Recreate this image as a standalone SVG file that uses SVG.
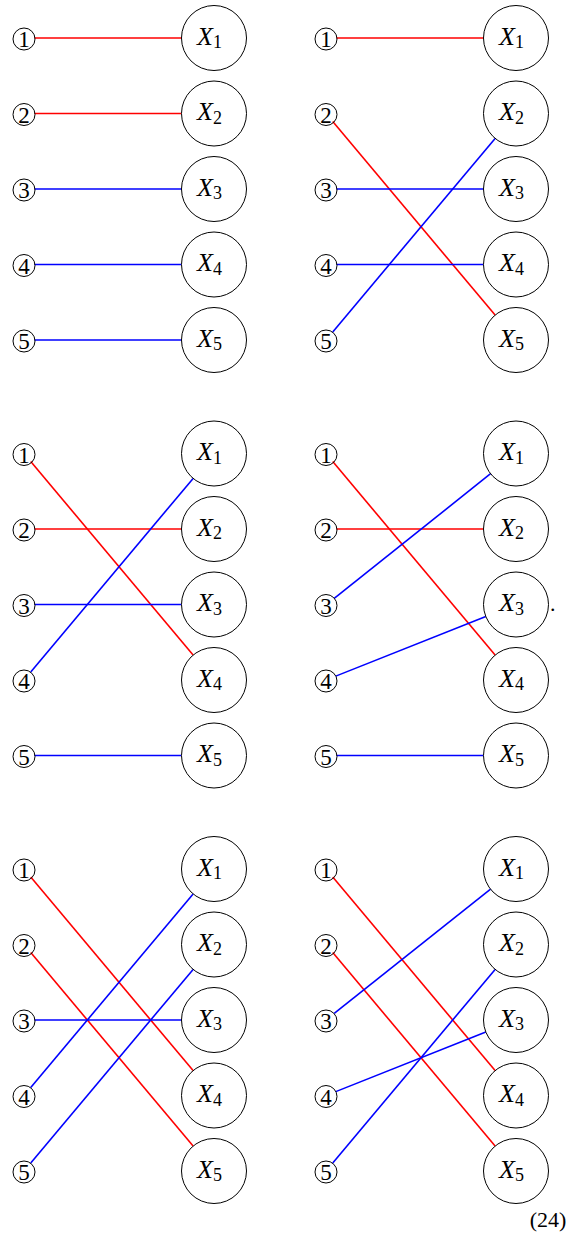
<svg xmlns="http://www.w3.org/2000/svg" width="584" height="1235" viewBox="0 0 584 1235" font-family="'Liberation Serif', 'Times New Roman', 'DejaVu Serif', serif">
<style>
text{font-family:"Liberation Serif","Times New Roman","DejaVu Serif",serif}
.big{fill:#fff;stroke:#000;stroke-width:1}
.sm{fill:none;stroke:#000;stroke-width:1}
.xl{font-style:italic;font-size:26px}
.sub{font-style:normal;font-size:18px}
.dg{font-size:23px;text-anchor:middle}
.r{stroke:#ff0000;stroke-width:1.6;fill:none}
.b{stroke:#0000ff;stroke-width:1.6;fill:none}
.t{font-size:22px}
</style>
<defs>
<g id="bc"><circle r="32.5" class="big"/></g>
<g id="sc"><circle cy="1" r="11" class="sm"/></g>
</defs>
<g id="connectors">
<line class="r" x1="34.5" y1="38" x2="181.5" y2="38"/>
<line class="r" x1="34.5" y1="113.5" x2="181.5" y2="113.5"/>
<line class="b" x1="34.5" y1="189" x2="181.5" y2="189"/>
<line class="b" x1="34.5" y1="264.5" x2="181.5" y2="264.5"/>
<line class="b" x1="34.5" y1="340" x2="181.5" y2="340"/>
<line class="r" x1="336.5" y1="38" x2="483.5" y2="38"/>
<line class="r" x1="332.75" y1="121.54" x2="495.11" y2="315.1"/>
<line class="b" x1="336.5" y1="189" x2="483.5" y2="189"/>
<line class="b" x1="336.5" y1="264.5" x2="483.5" y2="264.5"/>
<line class="b" x1="332.75" y1="331.96" x2="495.11" y2="138.4"/>
<line class="r" x1="30.75" y1="461.54" x2="193.11" y2="655.1"/>
<line class="r" x1="34.5" y1="529" x2="181.5" y2="529"/>
<line class="b" x1="34.5" y1="604.5" x2="181.5" y2="604.5"/>
<line class="b" x1="30.75" y1="671.96" x2="193.11" y2="478.4"/>
<line class="b" x1="34.5" y1="755.5" x2="181.5" y2="755.5"/>
<line class="r" x1="332.75" y1="461.54" x2="495.11" y2="655.1"/>
<line class="r" x1="336.5" y1="529" x2="483.5" y2="529"/>
<line class="b" x1="334.22" y1="598.47" x2="490.56" y2="473.72"/>
<line class="b" x1="335.76" y1="676.12" x2="485.8" y2="616.5"/>
<line class="b" x1="336.5" y1="755.5" x2="483.5" y2="755.5"/>
<line class="r" x1="30.75" y1="877.04" x2="193.11" y2="1070.6"/>
<line class="r" x1="30.75" y1="952.54" x2="193.11" y2="1146.1"/>
<line class="b" x1="34.5" y1="1020" x2="181.5" y2="1020"/>
<line class="b" x1="30.75" y1="1087.46" x2="193.11" y2="893.9"/>
<line class="b" x1="30.75" y1="1162.96" x2="193.11" y2="969.4"/>
<line class="r" x1="332.75" y1="877.04" x2="495.11" y2="1070.6"/>
<line class="r" x1="332.75" y1="952.54" x2="495.11" y2="1146.1"/>
<line class="b" x1="334.22" y1="1013.47" x2="490.56" y2="889.22"/>
<line class="b" x1="335.76" y1="1091.62" x2="485.8" y2="1032"/>
<line class="b" x1="332.75" y1="1162.96" x2="495.11" y2="969.4"/>
</g>
<g id="p1-n1"><use href="#sc" x="24" y="38"/><text class="dg" x="24" y="47">1</text></g>
<g id="p1-n2"><use href="#sc" x="24" y="113.5"/><text class="dg" x="24" y="122.5">2</text></g>
<g id="p1-n3"><use href="#sc" x="24" y="189"/><text class="dg" x="24" y="198">3</text></g>
<g id="p1-n4"><use href="#sc" x="24" y="264.5"/><text class="dg" x="24" y="273.5">4</text></g>
<g id="p1-n5"><use href="#sc" x="24" y="340"/><text class="dg" x="24" y="349">5</text></g>
<g id="p1-x1"><use href="#bc" x="214" y="38"/><text class="xl" x="197" y="44.5">X<tspan class="sub" dy="3.5">1</tspan></text></g>
<g id="p1-x2"><use href="#bc" x="214" y="113.5"/><text class="xl" x="197" y="120">X<tspan class="sub" dy="3.5">2</tspan></text></g>
<g id="p1-x3"><use href="#bc" x="214" y="189"/><text class="xl" x="197" y="195.5">X<tspan class="sub" dy="3.5">3</tspan></text></g>
<g id="p1-x4"><use href="#bc" x="214" y="264.5"/><text class="xl" x="197" y="271">X<tspan class="sub" dy="3.5">4</tspan></text></g>
<g id="p1-x5"><use href="#bc" x="214" y="340"/><text class="xl" x="197" y="346.5">X<tspan class="sub" dy="3.5">5</tspan></text></g>
<g id="p2-n1"><use href="#sc" x="326" y="38"/><text class="dg" x="326" y="47">1</text></g>
<g id="p2-n2"><use href="#sc" x="326" y="113.5"/><text class="dg" x="326" y="122.5">2</text></g>
<g id="p2-n3"><use href="#sc" x="326" y="189"/><text class="dg" x="326" y="198">3</text></g>
<g id="p2-n4"><use href="#sc" x="326" y="264.5"/><text class="dg" x="326" y="273.5">4</text></g>
<g id="p2-n5"><use href="#sc" x="326" y="340"/><text class="dg" x="326" y="349">5</text></g>
<g id="p2-x1"><use href="#bc" x="516" y="38"/><text class="xl" x="499" y="44.5">X<tspan class="sub" dy="3.5">1</tspan></text></g>
<g id="p2-x2"><use href="#bc" x="516" y="113.5"/><text class="xl" x="499" y="120">X<tspan class="sub" dy="3.5">2</tspan></text></g>
<g id="p2-x3"><use href="#bc" x="516" y="189"/><text class="xl" x="499" y="195.5">X<tspan class="sub" dy="3.5">3</tspan></text></g>
<g id="p2-x4"><use href="#bc" x="516" y="264.5"/><text class="xl" x="499" y="271">X<tspan class="sub" dy="3.5">4</tspan></text></g>
<g id="p2-x5"><use href="#bc" x="516" y="340"/><text class="xl" x="499" y="346.5">X<tspan class="sub" dy="3.5">5</tspan></text></g>
<g id="p3-n1"><use href="#sc" x="24" y="453.5"/><text class="dg" x="24" y="462.5">1</text></g>
<g id="p3-n2"><use href="#sc" x="24" y="529"/><text class="dg" x="24" y="538">2</text></g>
<g id="p3-n3"><use href="#sc" x="24" y="604.5"/><text class="dg" x="24" y="613.5">3</text></g>
<g id="p3-n4"><use href="#sc" x="24" y="680"/><text class="dg" x="24" y="689">4</text></g>
<g id="p3-n5"><use href="#sc" x="24" y="755.5"/><text class="dg" x="24" y="764.5">5</text></g>
<g id="p3-x1"><use href="#bc" x="214" y="453.5"/><text class="xl" x="197" y="460">X<tspan class="sub" dy="3.5">1</tspan></text></g>
<g id="p3-x2"><use href="#bc" x="214" y="529"/><text class="xl" x="197" y="535.5">X<tspan class="sub" dy="3.5">2</tspan></text></g>
<g id="p3-x3"><use href="#bc" x="214" y="604.5"/><text class="xl" x="197" y="611">X<tspan class="sub" dy="3.5">3</tspan></text></g>
<g id="p3-x4"><use href="#bc" x="214" y="680"/><text class="xl" x="197" y="686.5">X<tspan class="sub" dy="3.5">4</tspan></text></g>
<g id="p3-x5"><use href="#bc" x="214" y="755.5"/><text class="xl" x="197" y="762">X<tspan class="sub" dy="3.5">5</tspan></text></g>
<g id="p4-n1"><use href="#sc" x="326" y="453.5"/><text class="dg" x="326" y="462.5">1</text></g>
<g id="p4-n2"><use href="#sc" x="326" y="529"/><text class="dg" x="326" y="538">2</text></g>
<g id="p4-n3"><use href="#sc" x="326" y="604.5"/><text class="dg" x="326" y="613.5">3</text></g>
<g id="p4-n4"><use href="#sc" x="326" y="680"/><text class="dg" x="326" y="689">4</text></g>
<g id="p4-n5"><use href="#sc" x="326" y="755.5"/><text class="dg" x="326" y="764.5">5</text></g>
<g id="p4-x1"><use href="#bc" x="516" y="453.5"/><text class="xl" x="499" y="460">X<tspan class="sub" dy="3.5">1</tspan></text></g>
<g id="p4-x2"><use href="#bc" x="516" y="529"/><text class="xl" x="499" y="535.5">X<tspan class="sub" dy="3.5">2</tspan></text></g>
<g id="p4-x3"><use href="#bc" x="516" y="604.5"/><text class="xl" x="499" y="611">X<tspan class="sub" dy="3.5">3</tspan></text></g>
<g id="p4-x4"><use href="#bc" x="516" y="680"/><text class="xl" x="499" y="686.5">X<tspan class="sub" dy="3.5">4</tspan></text></g>
<g id="p4-x5"><use href="#bc" x="516" y="755.5"/><text class="xl" x="499" y="762">X<tspan class="sub" dy="3.5">5</tspan></text></g>
<text class="t" x="550" y="611">.</text>
<g id="p5-n1"><use href="#sc" x="24" y="869"/><text class="dg" x="24" y="878">1</text></g>
<g id="p5-n2"><use href="#sc" x="24" y="944.5"/><text class="dg" x="24" y="953.5">2</text></g>
<g id="p5-n3"><use href="#sc" x="24" y="1020"/><text class="dg" x="24" y="1029">3</text></g>
<g id="p5-n4"><use href="#sc" x="24" y="1095.5"/><text class="dg" x="24" y="1104.5">4</text></g>
<g id="p5-n5"><use href="#sc" x="24" y="1171"/><text class="dg" x="24" y="1180">5</text></g>
<g id="p5-x1"><use href="#bc" x="214" y="869"/><text class="xl" x="197" y="875.5">X<tspan class="sub" dy="3.5">1</tspan></text></g>
<g id="p5-x2"><use href="#bc" x="214" y="944.5"/><text class="xl" x="197" y="951">X<tspan class="sub" dy="3.5">2</tspan></text></g>
<g id="p5-x3"><use href="#bc" x="214" y="1020"/><text class="xl" x="197" y="1026.5">X<tspan class="sub" dy="3.5">3</tspan></text></g>
<g id="p5-x4"><use href="#bc" x="214" y="1095.5"/><text class="xl" x="197" y="1102">X<tspan class="sub" dy="3.5">4</tspan></text></g>
<g id="p5-x5"><use href="#bc" x="214" y="1171"/><text class="xl" x="197" y="1177.5">X<tspan class="sub" dy="3.5">5</tspan></text></g>
<g id="p6-n1"><use href="#sc" x="326" y="869"/><text class="dg" x="326" y="878">1</text></g>
<g id="p6-n2"><use href="#sc" x="326" y="944.5"/><text class="dg" x="326" y="953.5">2</text></g>
<g id="p6-n3"><use href="#sc" x="326" y="1020"/><text class="dg" x="326" y="1029">3</text></g>
<g id="p6-n4"><use href="#sc" x="326" y="1095.5"/><text class="dg" x="326" y="1104.5">4</text></g>
<g id="p6-n5"><use href="#sc" x="326" y="1171"/><text class="dg" x="326" y="1180">5</text></g>
<g id="p6-x1"><use href="#bc" x="516" y="869"/><text class="xl" x="499" y="875.5">X<tspan class="sub" dy="3.5">1</tspan></text></g>
<g id="p6-x2"><use href="#bc" x="516" y="944.5"/><text class="xl" x="499" y="951">X<tspan class="sub" dy="3.5">2</tspan></text></g>
<g id="p6-x3"><use href="#bc" x="516" y="1020"/><text class="xl" x="499" y="1026.5">X<tspan class="sub" dy="3.5">3</tspan></text></g>
<g id="p6-x4"><use href="#bc" x="516" y="1095.5"/><text class="xl" x="499" y="1102">X<tspan class="sub" dy="3.5">4</tspan></text></g>
<g id="p6-x5"><use href="#bc" x="516" y="1171"/><text class="xl" x="499" y="1177.5">X<tspan class="sub" dy="3.5">5</tspan></text></g>
<text class="t" x="548" y="1227" text-anchor="middle">(24)</text>
</svg>
